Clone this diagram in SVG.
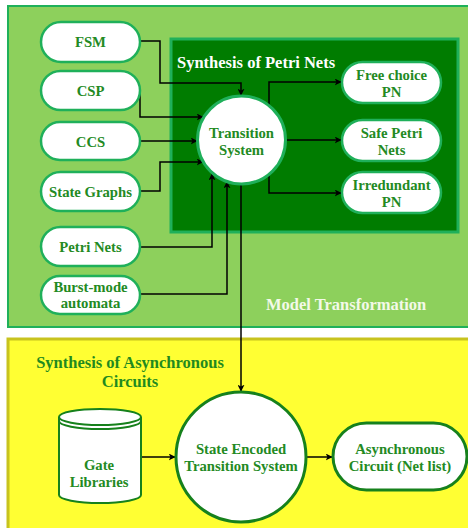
<svg xmlns="http://www.w3.org/2000/svg" width="468" height="528" viewBox="0 0 468 528">
  <style>
    .pill { fill: #ffffff; stroke: #1fb05a; stroke-width: 2.5; }
    .pill-dark { fill: #ffffff; stroke: #16811c; stroke-width: 3; }
    .lbl { font-family: "Liberation Serif", "Times New Roman", serif; font-weight: bold; font-size: 14.7px; fill: #238a23; text-anchor: middle; }
    .title { font-family: "Liberation Serif", "Times New Roman", serif; font-weight: bold; font-size: 16.5px; }
    .wire { fill: none; stroke: #000000; stroke-width: 1.5; marker-end: url(#arrow); }
  </style>
  <defs>
    <marker id="arrow" viewBox="0 0 10 10" refX="9" refY="5" markerWidth="7" markerHeight="7" markerUnits="userSpaceOnUse" orient="auto">
      <path d="M0,0 L10,5 L0,10 L2.5,5 z" fill="#000000"/>
    </marker>
  </defs>

  <rect width="468" height="528" fill="#ffffff"/>

  <!-- Model Transformation panel -->
  <g id="model-transformation">
    <rect x="8" y="6" width="470" height="321" fill="#8dd05c" stroke="#1fb05a" stroke-width="2"/>
    <text class="title" x="266" y="310" fill="#f3f9e8">Model Transformation</text>
  </g>

  <!-- Synthesis of Petri Nets panel -->
  <g id="petri-synthesis">
    <rect x="171" y="39" width="287" height="193" fill="#007c00" stroke="#1fb05a" stroke-width="3"/>
    <text class="title" x="177" y="68" fill="#ffffff">Synthesis of Petri Nets</text>
  </g>

  <!-- Synthesis of Asynchronous Circuits panel -->
  <g id="async-synthesis">
    <rect x="8" y="339" width="470" height="200" fill="#ffff33" stroke="#c8c31e" stroke-width="3"/>
    <text class="title" x="130" y="368" fill="#1f8a1f" text-anchor="middle">Synthesis of Asynchronous</text>
    <text class="title" x="130" y="387" fill="#1f8a1f" text-anchor="middle">Circuits</text>
  </g>

  <!-- Connectors -->
  <g id="connectors">
    <path class="wire" d="M140,41 H160 V83 H241 V95"/>
    <path class="wire" d="M140,90 V117 H203"/>
    <path class="wire" d="M140,141 H197"/>
    <path class="wire" d="M140,191 H160 V162 H203"/>
    <path class="wire" d="M140,247 H212 V174"/>
    <path class="wire" d="M140,294 H227 V182"/>
    <path class="wire" d="M269,106 V82 H341"/>
    <path class="wire" d="M285,140 H341"/>
    <path class="wire" d="M269,174 V193 H341"/>
    <path class="wire" d="M241,184 V391"/>
    <path class="wire" d="M141,457 H175"/>
    <path class="wire" d="M306,457 H332"/>
  </g>

  <!-- Source models -->
  <g id="fsm">
    <rect class="pill" x="41" y="22" width="99" height="40" rx="20"/>
    <text class="lbl" x="90.5" y="47">FSM</text>
  </g>
  <g id="csp">
    <rect class="pill" x="41" y="71" width="99" height="39" rx="19.5"/>
    <text class="lbl" x="90.5" y="95.5">CSP</text>
  </g>
  <g id="ccs">
    <rect class="pill" x="41" y="122" width="99" height="38" rx="19"/>
    <text class="lbl" x="90.5" y="146.5">CCS</text>
  </g>
  <g id="state-graphs">
    <rect class="pill" x="41" y="172" width="99" height="39" rx="19.5"/>
    <text class="lbl" x="90.5" y="196.5">State Graphs</text>
  </g>
  <g id="petri-nets">
    <rect class="pill" x="41" y="227" width="99" height="39" rx="19.5"/>
    <text class="lbl" x="90.5" y="252">Petri Nets</text>
  </g>
  <g id="burst-mode">
    <rect class="pill" x="41" y="276" width="99" height="38" rx="19"/>
    <text class="lbl" x="90.5" y="292">Burst-mode</text>
    <text class="lbl" x="90.5" y="308">automata</text>
  </g>

  <!-- Transition system -->
  <g id="transition-system">
    <circle cx="241.5" cy="140" r="44" fill="#ffffff" stroke="#1fb05a" stroke-width="3"/>
    <text class="lbl" x="241.5" y="138">Transition</text>
    <text class="lbl" x="241.5" y="155">System</text>
  </g>

  <!-- Petri net classes -->
  <g id="free-choice-pn">
    <rect class="pill" x="342" y="62" width="99" height="41" rx="20.5"/>
    <text class="lbl" x="391.5" y="80">Free choice</text>
    <text class="lbl" x="391.5" y="97">PN</text>
  </g>
  <g id="safe-petri-nets">
    <rect class="pill" x="342" y="120" width="99" height="41" rx="20.5"/>
    <text class="lbl" x="391.5" y="138">Safe Petri</text>
    <text class="lbl" x="391.5" y="155">Nets</text>
  </g>
  <g id="irredundant-pn">
    <rect class="pill" x="342" y="172" width="99" height="41" rx="20.5"/>
    <text class="lbl" x="391.5" y="190">Irredundant</text>
    <text class="lbl" x="391.5" y="207">PN</text>
  </g>

  <!-- Gate library store -->
  <g id="gate-libraries">
    <path d="M59,417 V495 A41,8 0 0 0 141,495 V417" fill="#ffffff" stroke="#16811c" stroke-width="2"/>
    <ellipse cx="100" cy="417" rx="41" ry="8" fill="#ffffff" stroke="#16811c" stroke-width="2"/>
    <path d="M59,421 A41,8 0 0 0 141,421" fill="none" stroke="#16811c" stroke-width="2"/>
    <text class="lbl" x="99" y="470">Gate</text>
    <text class="lbl" x="99" y="487">Libraries</text>
  </g>

  <!-- State encoded transition system -->
  <g id="state-encoded-ts">
    <circle cx="241" cy="457" r="65" fill="#ffffff" stroke="#16811c" stroke-width="3"/>
    <text class="lbl" x="241" y="454">State Encoded</text>
    <text class="lbl" x="241" y="471">Transition System</text>
  </g>

  <!-- Resulting circuit -->
  <g id="async-circuit">
    <rect class="pill-dark" x="333" y="423" width="134" height="67" rx="33.5"/>
    <text class="lbl" x="400" y="454">Asynchronous</text>
    <text class="lbl" x="400" y="471">Circuit (Net list)</text>
  </g>
</svg>
